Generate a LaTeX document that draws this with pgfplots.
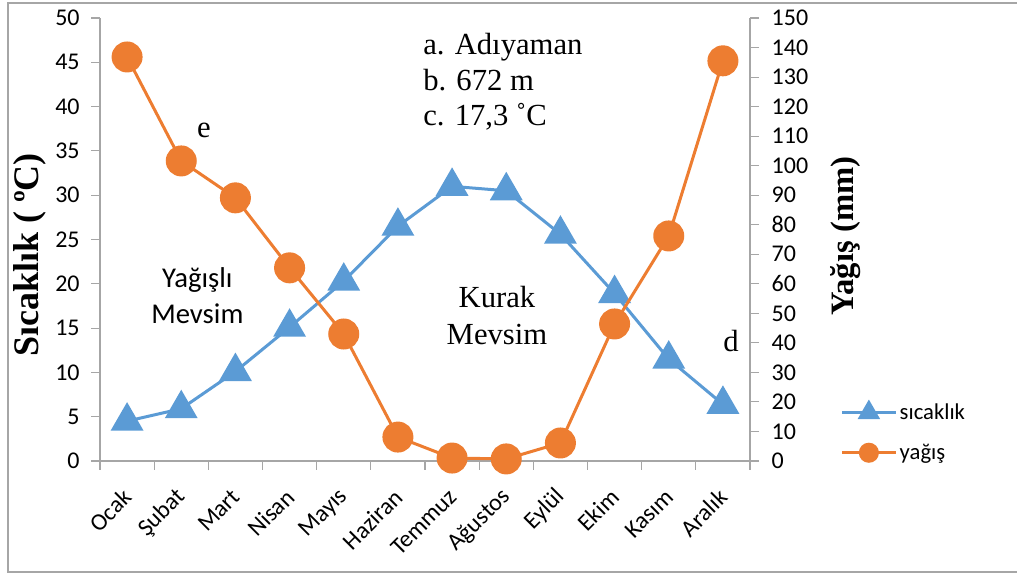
\documentclass[border=0pt]{standalone}
\usepackage{fontspec}
\setmainfont{Carlito}
\newfontfamily\tnr{Liberation Serif}
\usepackage{pgfplots}
\pgfplotsset{compat=1.18}
\definecolor{sblue}{HTML}{5B9BD5}
\definecolor{sorange}{HTML}{ED7D31}
\definecolor{axgray}{HTML}{A6A6A6}

\begin{document}
\begin{tikzpicture}
\useasboundingbox (0,0) rectangle (762.75pt,430.5pt);
\draw[axgray, line width=0.8pt] (762.75pt,428.25pt) -- (6pt,428.25pt) -- (6pt,1.5pt) -- (762.75pt,1.5pt);
\pgfplotsset{
  common/.style={
    at={(75pt,84.75pt)}, anchor=south west,
    scale only axis, width=487.5pt, height=332.25pt,
    xmin=0.5, xmax=12.5,
    /pgf/number format/assume math mode=true,
    tick label style={font=\fontsize{18}{21}\selectfont, black},
    axis line style={axgray, line width=0.8pt},
    tick style={axgray, line width=0.8pt},
    tick align=outside,
    major tick length=6.75pt,
  },
  legend image code/.code={\draw[mark repeat=2,mark phase=2] plot coordinates {(0pt,0pt) (20pt,0pt) (40pt,0pt)};},
}
% temperature (left axis)
\begin{axis}[common,
  axis x line*=bottom, axis y line*=left,
  ymin=0, ymax=50, ytick={0,5,...,50},
  yticklabel style={xshift=-5pt},
  xtick={0.5,1.5,...,12.5},
  x tick label as interval,
  xticklabels={Ocak,Şubat,Mart,Nisan,Mayıs,Haziran,Temmuz,Ağustos,Eylül,Ekim,Kasım,Aralık},
  xticklabel style={yshift=-15pt, xshift=3pt, rotate=45, anchor=east},
]
\addplot[sblue, line width=2.25pt, mark=triangle*, mark size=12pt] coordinates {
  (1,4.5) (2,5.9) (3,10.1) (4,15.1) (5,20.3) (6,26.5)
  (7,31.0) (8,30.5) (9,25.6) (10,18.9) (11,11.5) (12,6.4)
};
\end{axis}
% precipitation (right axis)
\begin{axis}[common,
  axis x line=none, axis y line*=right,
  ymin=0, ymax=150, ytick={0,10,...,150},
  yticklabel style={xshift=6pt},
  legend style={at={(axis description cs:1.133,0.142)}, anchor=north west,
    draw=none, fill=none, font=\fontsize{17}{20}\selectfont, row sep=13pt},
  legend cell align=left,
]
\addlegendimage{sblue, line width=2.25pt, mark=triangle*, mark size=7.5pt}
\addlegendentry{sıcaklık}
\addlegendimage{sorange, line width=2.25pt, mark=*, mark size=6.4pt}
\addlegendentry{yağış}
\addplot[sorange, line width=2.25pt, mark=*, mark size=10.5pt, forget plot] coordinates {
  (1,136.8) (2,101.6) (3,89.1) (4,65.4) (5,43.0) (6,8.1)
  (7,1.0) (8,0.7) (9,6.1) (10,46.4) (11,76.2) (12,135.5)
};
\end{axis}
% axis titles
\node[rotate=90, font=\tnr\bfseries\fontsize{27}{30}\selectfont] at (22.5pt,239.25pt) {Sıcaklık ( ºC)};
\node[rotate=90, font=\tnr\bfseries\fontsize{24.5}{28}\selectfont] at (634.5pt,253.5pt) {Yağış (mm)};
% annotations
\begin{scope}[every node/.style={font=\tnr\fontsize{23}{26}\selectfont, inner sep=0pt}]
\node[anchor=base west] at (317.25pt,389.25pt) {a. Adıyaman};
\node[anchor=base west] at (317.25pt,362.25pt) {b. 672 m};
\node[anchor=base west] at (317.25pt,336pt) {c. 17,3 ˚C};
\node[anchor=base] at (153pt,327pt) {e};
\node[anchor=base] at (548.25pt,166.5pt) {d};
\node[align=center, font=\tnr\fontsize{23}{27.75}\selectfont] at (372.75pt,193.5pt) {Kurak\\Mevsim};
\end{scope}
\begin{scope}[every node/.style={font=\fontsize{21.5}{25}\selectfont, inner sep=0pt, anchor=base}]
\node at (148pt,214.5pt) {Yağışlı};
\node at (148pt,187.5pt) {Mevsim};
\end{scope}
\end{tikzpicture}
\end{document}
